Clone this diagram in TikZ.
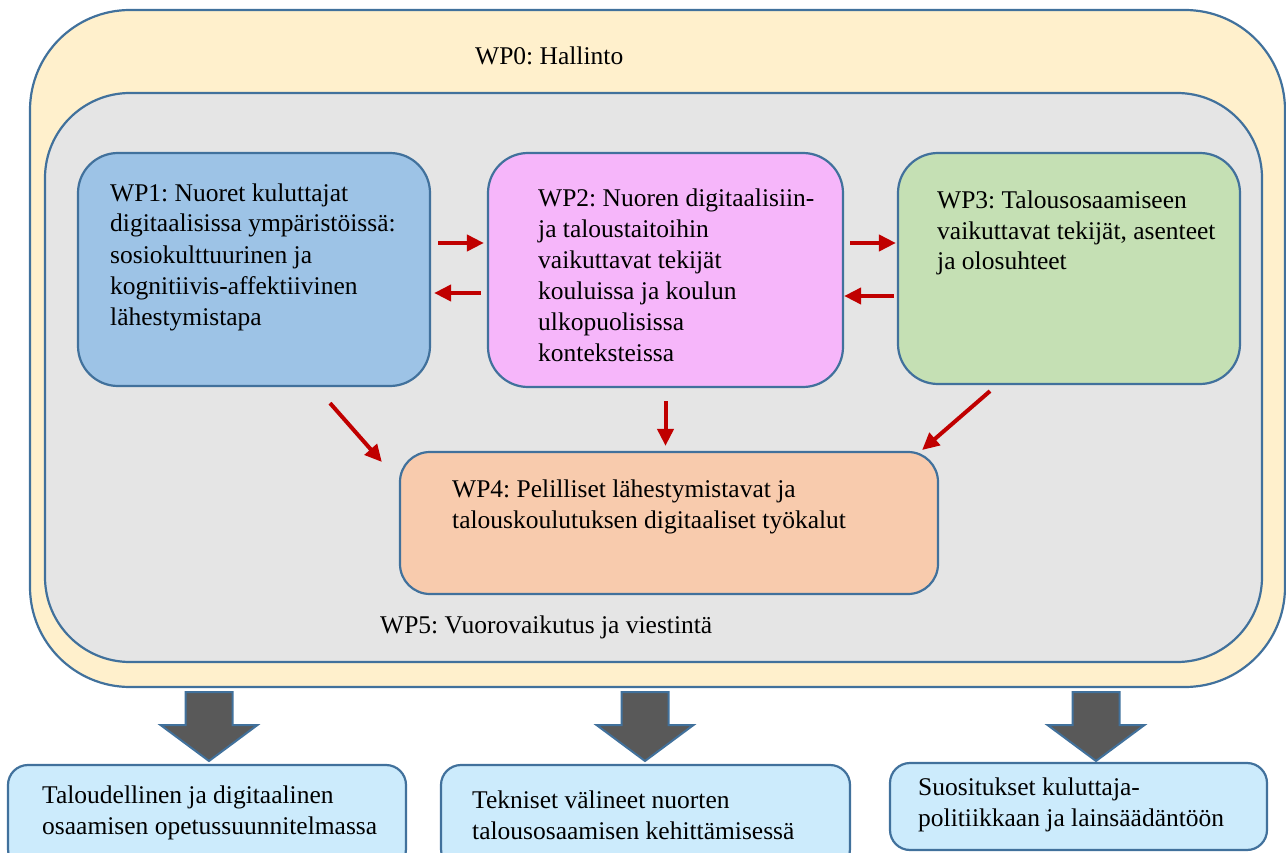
\documentclass[tikz,border=0pt]{standalone}
\usepackage{fontspec}
\setmainfont{Liberation Serif}
\usetikzlibrary{calc,arrows.meta}
\definecolor{bord}{HTML}{41719C}
\definecolor{yellowf}{HTML}{FFF0CC}
\definecolor{grayf}{HTML}{E5E5E5}
\definecolor{bluef}{HTML}{9DC3E6}
\definecolor{pinkf}{HTML}{F6B6FA}
\definecolor{greenf}{HTML}{C5E0B4}
\definecolor{orangef}{HTML}{F8CBAD}
\definecolor{lightbf}{HTML}{CCEBFC}
\definecolor{arrred}{HTML}{C00000}
\definecolor{darkarr}{HTML}{595959}
\frenchspacing
\newcommand\dnarrow[1]{%
  \draw[bigarr] ({#1-23.5},692) -- ({#1+23.5},692) -- ({#1+23.5},725) -- ({#1+48.5},725)
    -- (#1,761) -- ({#1-48.5},725) -- ({#1-23.5},725) -- cycle;}
\begin{document}
\begin{tikzpicture}[x=1pt,y=-1pt,
  box/.style={draw=bord,line width=2.2pt,inner sep=0pt},
  lbl/.style={font=\fontsize{25.5}{31}\selectfont\frenchspacing,align=left,inner sep=0pt,anchor=base west},
  redarr/.style={draw=arrred,line width=4pt,-{Triangle[width=16pt,length=17pt]}},
  bigarr/.style={draw=bord,line width=2pt,fill=darkarr,line join=miter}]
\useasboundingbox (0,0) rectangle (1286,853);
\clip (0,0) rectangle (1286,853);
% containers
\node[box,fill=yellowf,rounded corners=100pt,minimum width=1255pt,minimum height=677pt] (wp0) at (657.5,348.5) {};
\node[box,fill=grayf,rounded corners=85pt,minimum width=1217pt,minimum height=569pt] (wp5) at (653.5,377.5) {};
% work packages
\node[box,fill=bluef,rounded corners=40pt,minimum width=352pt,minimum height=233pt] (wp1) at (254,269.5) {};
\node[box,fill=pinkf,rounded corners=40pt,minimum width=355pt,minimum height=234pt] (wp2) at (665.5,270) {};
\node[box,fill=greenf,rounded corners=40pt,minimum width=342pt,minimum height=231pt] (wp3) at (1069,268.5) {};
\node[box,fill=orangef,rounded corners=30pt,minimum width=538pt,minimum height=142pt] (wp4) at (669,523) {};
% outputs
\node[box,fill=lightbf,rounded corners=20pt,minimum width=398pt,minimum height=104pt] (o1) at (207,817) {};
\node[box,fill=lightbf,rounded corners=20pt,minimum width=409pt,minimum height=104pt] (o2) at (645.5,817) {};
\node[box,fill=lightbf,rounded corners=20pt,minimum width=377pt,minimum height=87pt] (o3) at (1078.5,806.5) {};
% labels (base anchor = baseline of last line)
\node[lbl] (t0) at (475,65) {WP0: Hallinto};
\node[lbl] (t5) at (380,633) {WP5: Vuorovaikutus ja viestintä};
\node[lbl] (t1) at (110,325) {WP1: Nuoret kuluttajat\\digitaalisissa ympäristöissä:\\sosiokulttuurinen ja\\kognitiivis-affektiivinen\\lähestymistapa};
\node[lbl] (t2) at (538,361) {WP2: Nuoren digitaalisiin-\\ja taloustaitoihin\\vaikuttavat tekijät\\kouluissa ja koulun\\ulkopuolisissa\\konteksteissa};
\node[lbl] (t3) at (937,270) {WP3: Talousosaamiseen\\vaikuttavat tekijät, asenteet\\ja olosuhteet};
\node[lbl] (t4) at (452,528) {WP4: Pelilliset lähestymistavat ja\\talouskoulutuksen digitaaliset työkalut};
\node[lbl] (to1) at (42,834) {Taloudellinen ja digitaalinen\\osaamisen opetussuunnitelmassa};
\node[lbl] (to2) at (472,839) {Tekniset välineet nuorten\\talousosaamisen kehittämisessä};
\node[lbl] (to3) at (918,826) {Suositukset kuluttaja-\\politiikkaan ja lainsäädäntöön};
% red arrows
\draw[redarr] ($(wp1.east)+(7,-26.5)$) -- ($(wp2.west)+(-3,-27)$);
\draw[redarr] ($(wp2.west)+(-6,23)$) -- ($(wp1.east)+(3,23.5)$);
\draw[redarr] ($(wp2.east)+(6,-27)$) -- ($(wp3.west)+(-1,-25.5)$);
\draw[redarr] ($(wp3.west)+(-3,27.5)$) -- ($(wp2.east)+(0,26)$);
\draw[redarr] ($(wp1.south)+(76,16)$) -- ($(wp4.west)+(-17,-61)$);
\draw[redarr] ($(wp2.south)+(0,13)$) -- ($(wp4.north)+(-3.5,-5)$);
\draw[redarr] ($(wp3.south)+(-79,6)$) -- ($(wp4.east)+(-17,-73)$);
% big output arrows
\dnarrow{209}
\dnarrow{645}
\dnarrow{1096}
\end{tikzpicture}
\end{document}
